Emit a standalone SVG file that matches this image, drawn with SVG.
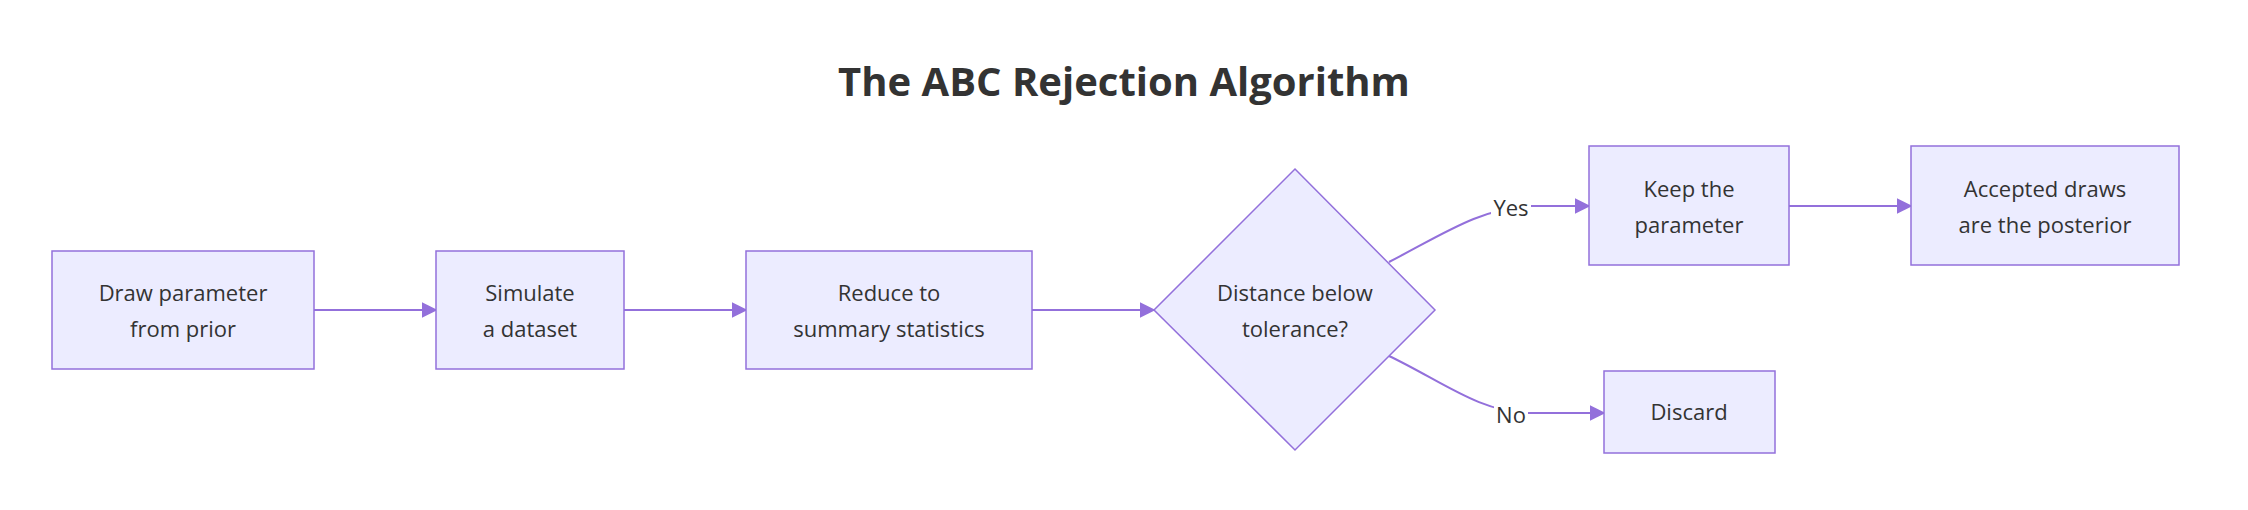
<svg xmlns="http://www.w3.org/2000/svg" width="2248" height="510" viewBox="0 0 2248 510">
<style>
.n{fill:#ececff;stroke:#9370db;stroke-width:1.5}
.t{font-family:"Open Sans","Liberation Sans",sans-serif;font-size:22px;fill:#333;text-anchor:middle}
.e{fill:none;stroke:#9370db;stroke-width:2}
.l{fill:#fff}
</style>
<defs><marker id="a" viewBox="0 0 10 10" refX="9" refY="5" markerWidth="8" markerHeight="8" orient="auto"><path d="M0,0L10,5L0,10z" fill="#9370db"/></marker></defs>
<rect width="2248" height="510" fill="#fff"/>
<text x="1124" y="96" class="t" style="font-size:40px;font-weight:bold">The ABC Rejection Algorithm</text>
<g id="edges">
<path class="e" marker-end="url(#a)" d="M314,310H436"/>
<path class="e" marker-end="url(#a)" d="M624,310H746"/>
<path class="e" marker-end="url(#a)" d="M1032,310H1154"/>
<path class="e" marker-end="url(#a)" d="M1389,262C1440,236 1480,208 1530,206H1589"/>
<path class="e" marker-end="url(#a)" d="M1389,356C1440,380 1480,413 1530,413H1604"/>
<path class="e" marker-end="url(#a)" d="M1789,206H1911"/>
<rect class="l" x="1491" y="193" width="40" height="28"/>
<text class="t" x="1511" y="216">Yes</text>
<rect class="l" x="1494" y="400" width="34" height="28"/>
<text class="t" x="1511" y="423">No</text>
</g>
<g id="n1"><rect class="n" x="52" y="251" width="262" height="118"/><text class="t" x="183" y="301">Draw parameter</text><text class="t" x="183" y="337">from prior</text></g>
<g id="n2"><rect class="n" x="436" y="251" width="188" height="118"/><text class="t" x="530" y="301">Simulate</text><text class="t" x="530" y="337">a dataset</text></g>
<g id="n3"><rect class="n" x="746" y="251" width="286" height="118"/><text class="t" x="889" y="301">Reduce to</text><text class="t" x="889" y="337">summary statistics</text></g>
<g id="n4"><polygon class="n" points="1295,169 1435,310 1295,450 1154,310"/><text class="t" x="1295" y="301">Distance below</text><text class="t" x="1295" y="337">tolerance?</text></g>
<g id="n5"><rect class="n" x="1589" y="146" width="200" height="119"/><text class="t" x="1689" y="197">Keep the</text><text class="t" x="1689" y="233">parameter</text></g>
<g id="n6"><rect class="n" x="1911" y="146" width="268" height="119"/><text class="t" x="2045" y="197">Accepted draws</text><text class="t" x="2045" y="233">are the posterior</text></g>
<g id="n7"><rect class="n" x="1604" y="371" width="171" height="82"/><text class="t" x="1689" y="420">Discard</text></g>
</svg>
